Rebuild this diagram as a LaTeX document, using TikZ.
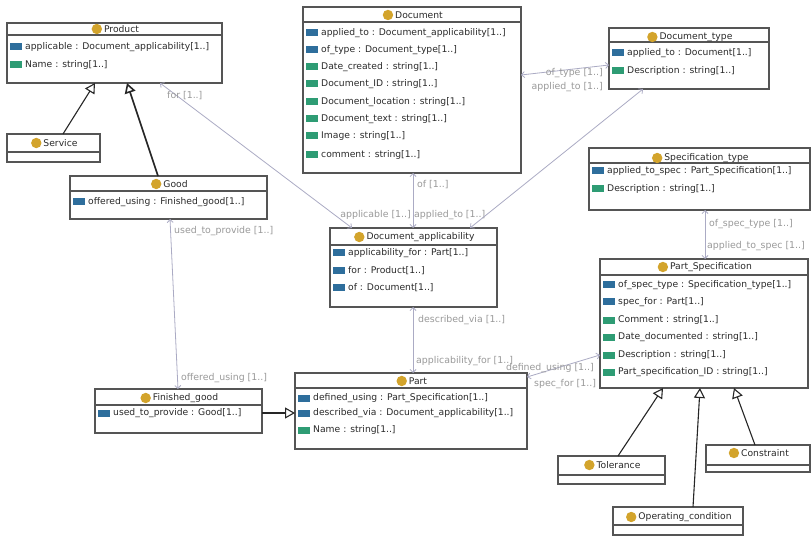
\documentclass[tikz,border=0pt]{standalone}
\usepackage{fontspec}
\setmainfont{DejaVu Sans}
\usetikzlibrary{calc,arrows.meta}

\definecolor{boxline}{HTML}{555555}
\definecolor{refcol}{HTML}{2E6E9C}
\definecolor{valcol}{HTML}{2E9C74}
\definecolor{classdot}{HTML}{D3A42C}
\definecolor{assoccol}{HTML}{ABABC4}
\definecolor{labelcol}{HTML}{9A9A9A}
\definecolor{textcol}{HTML}{2A2A2A}

\newcommand\umlfont{\fontsize{9.2}{11}\selectfont}
\newcommand\lblfont{\fontsize{9.4}{11}\selectfont}

\tikzset{
  classbox/.style={draw=boxline, line width=1.1pt, fill=white, inner sep=0pt,
    outer sep=0pt, anchor=north west},
  ctitle/.style={font=\umlfont, text=textcol, inner sep=0pt},
  cattr/.style={font=\umlfont, text=textcol, inner sep=0pt, anchor=west},
  alabel/.style={font=\lblfont, text=labelcol, inner sep=0pt},
  assoc/.style={draw=assoccol, line width=0.8pt,
    {Straight Barb[length=3pt,width=6pt]}-{Straight Barb[length=3pt,width=6pt]}},
  gen/.style={draw=black!85, line width=1.1pt,
    -{Triangle[open,length=10pt,width=11pt,fill=white]}},
}

% class box: name, left, top, width, height, title, title offset, divider offset
\newcommand\umlclass[8]{%
  \node[classbox, minimum width=#4pt, minimum height=#5pt] (#1) at (#2,#3) {};
  \draw[boxline, line width=1.1pt] ($(#1.north west)+(0,#8)$) -- ($(#1.north east)+(0,#8)$);
  \node[ctitle] (#1-title) at ($(#1.north)+(7,#7)$) {#6};
  \fill[classdot] ($(#1-title.west)+(-7,0)$) circle (5.2pt);
}
% attribute row: box, row name, offset from top, icon colour, text
\newcommand\umlattr[5]{%
  \fill[#4] ($(#1.north west)+(3,#3-3.5)$) rectangle ++(12,7);
  \node[cattr] (#1-#2) at ($(#1.north west)+(18,#3)$) {#5};
}

\begin{document}
\begin{tikzpicture}[x=1pt,y=-1pt]
\useasboundingbox[fill=white] (0,0) rectangle (811,537);

% ---------- classes ----------
\umlclass{product}{7}{23}{215}{60}{Product}{6}{12}
\umlattr{product}{a}{24}{refcol}{applicable : Document\_applicability[1..]}
\umlattr{product}{b}{42}{valcol}{Name : string[1..]}

\umlclass{service}{7}{134}{93}{28}{Service}{9}{18}

\umlclass{good}{70}{176}{197}{43}{Good}{8}{15}
\umlattr{good}{a}{26}{refcol}{offered\_using : Finished\_good[1..]}

\umlclass{fgood}{95}{389}{167}{44}{Finished\_good}{9}{16}
\umlattr{fgood}{a}{24}{refcol}{used\_to\_provide : Good[1..]}

\umlclass{part}{295}{373}{232}{76}{Part}{8}{15}
\umlattr{part}{a}{25}{refcol}{defined\_using : Part\_Specification[1..]}
\umlattr{part}{b}{40}{refcol}{described\_via : Document\_applicability[1..]}
\umlattr{part}{c}{57}{valcol}{Name : string[1..]}

\umlclass{docapp}{330}{228}{167}{79}{Document\_applicability}{9}{17}
\umlattr{docapp}{a}{25}{refcol}{applicability\_for : Part[1..]}
\umlattr{docapp}{b}{43}{refcol}{for : Product[1..]}
\umlattr{docapp}{c}{60}{refcol}{of : Document[1..]}

\umlclass{document}{303}{7}{218}{166}{Document}{8}{15}
\umlattr{document}{a}{26}{refcol}{applied\_to : Document\_applicability[1..]}
\umlattr{document}{b}{43}{refcol}{of\_type : Document\_type[1..]}
\umlattr{document}{c}{60}{valcol}{Date\_created : string[1..]}
\umlattr{document}{d}{77}{valcol}{Document\_ID : string[1..]}
\umlattr{document}{e}{95}{valcol}{Document\_location : string[1..]}
\umlattr{document}{f}{112}{valcol}{Document\_text : string[1..]}
\umlattr{document}{g}{129}{valcol}{Image : string[1..]}
\umlattr{document}{h}{148}{valcol}{comment : string[1..]}

\umlclass{doctype}{609}{28}{160}{61}{Document\_type}{9}{14}
\umlattr{doctype}{a}{25}{refcol}{applied\_to : Document[1..]}
\umlattr{doctype}{b}{43}{valcol}{Description : string[1..]}

\umlclass{spectype}{589}{148}{221}{62}{Specification\_type}{10}{15}
\umlattr{spectype}{a}{23}{refcol}{applied\_to\_spec : Part\_Specification[1..]}
\umlattr{spectype}{b}{41}{valcol}{Description : string[1..]}

\umlclass{pspec}{600}{259}{208}{129}{Part\_Specification}{8}{16}
\umlattr{pspec}{a}{26}{refcol}{of\_spec\_type : Specification\_type[1..]}
\umlattr{pspec}{b}{43}{refcol}{spec\_for : Part[1..]}
\umlattr{pspec}{c}{61}{valcol}{Comment : string[1..]}
\umlattr{pspec}{d}{78}{valcol}{Date\_documented : string[1..]}
\umlattr{pspec}{e}{96}{valcol}{Description : string[1..]}
\umlattr{pspec}{f}{113}{valcol}{Part\_specification\_ID : string[1..]}

\umlclass{tolerance}{558}{456}{107}{28}{Tolerance}{9}{19}
\umlclass{constraint}{706}{445}{104}{27}{Constraint}{8}{20}
\umlclass{opcond}{613}{507}{130}{28}{Operating\_condition}{10}{18}

% ---------- generalisations ----------
\draw[gen] ($(service.north west)+(56,0)$) -- ($(product.south west)+(88,0)$);
\draw[gen, line width=1.6pt] ($(good.north west)+(88,0)$) -- ($(product.south west)+(120,0)$);
\draw[gen] ($(fgood.north east)+(0,24)$) -- ($(part.north west)+(0,40)$);
\draw[gen] ($(tolerance.north west)+(60,0)$) -- ($(pspec.south west)+(63,0)$);
\draw[gen] ($(opcond.north west)+(80,0)$) -- ($(pspec.south west)+(100,0)$);
\draw[gen] ($(constraint.north west)+(49,0)$) -- ($(pspec.south west)+(134,0)$);

% ---------- associations ----------
\draw[assoc] ($(docapp.north west)+(22,0)$) -- ($(product.south west)+(153,0)$);
\node[alabel, anchor=west] (l-for) at (167,96) {for [1..]};
\node[alabel, anchor=east] (l-applicable) at (411,215) {applicable [1..]};

\draw[assoc] ($(document.south west)+(110,0)$) -- ($(docapp.north west)+(83,0)$);
\node[alabel, anchor=west] (l-of) at (417,185) {of [1..]};
\node[alabel, anchor=west] (l-appliedto) at (414,215) {applied\_to [1..]};

\draw[assoc] ($(doctype.south west)+(34,0)$) -- ($(docapp.north west)+(140,0)$);

\draw[assoc] ($(document.north east)+(0,68)$) -- ($(doctype.north west)+(0,37)$);
\node[alabel, anchor=east] (l-oftype) at (603,73) {of\_type [1..]};
\node[alabel, anchor=east] (l-appliedto2) at (603,87) {applied\_to [1..]};

\draw[assoc] ($(spectype.south west)+(116,0)$) -- ($(pspec.north west)+(105,0)$);
\node[alabel, anchor=west] (l-ofspec) at (709,224) {of\_spec\_type [1..]};
\node[alabel, anchor=west] (l-appliedspec) at (707,246) {applied\_to\_spec [1..]};

\draw[assoc] ($(docapp.south west)+(83,0)$) -- ($(part.north west)+(118,0)$);
\node[alabel, anchor=west] (l-described) at (418,320) {described\_via [1..]};
\node[alabel, anchor=west] (l-applicability) at (416,361) {applicability\_for [1..]};

\draw[assoc] ($(part.north east)+(0,4)$) -- ($(pspec.north west)+(0,96)$);
\node[alabel, anchor=east] (l-defined) at (594,368) {defined\_using [1..]};
\node[alabel, anchor=west] (l-specfor) at (534,384) {spec\_for [1..]};

\draw[assoc] ($(good.south west)+(100,0)$) -- ($(fgood.north west)+(83,0)$);
\node[alabel, anchor=west] (l-used) at (174,231) {used\_to\_provide [1..]};
\node[alabel, anchor=west] (l-offered) at (181,378) {offered\_using [1..]};
\end{tikzpicture}
\end{document}
